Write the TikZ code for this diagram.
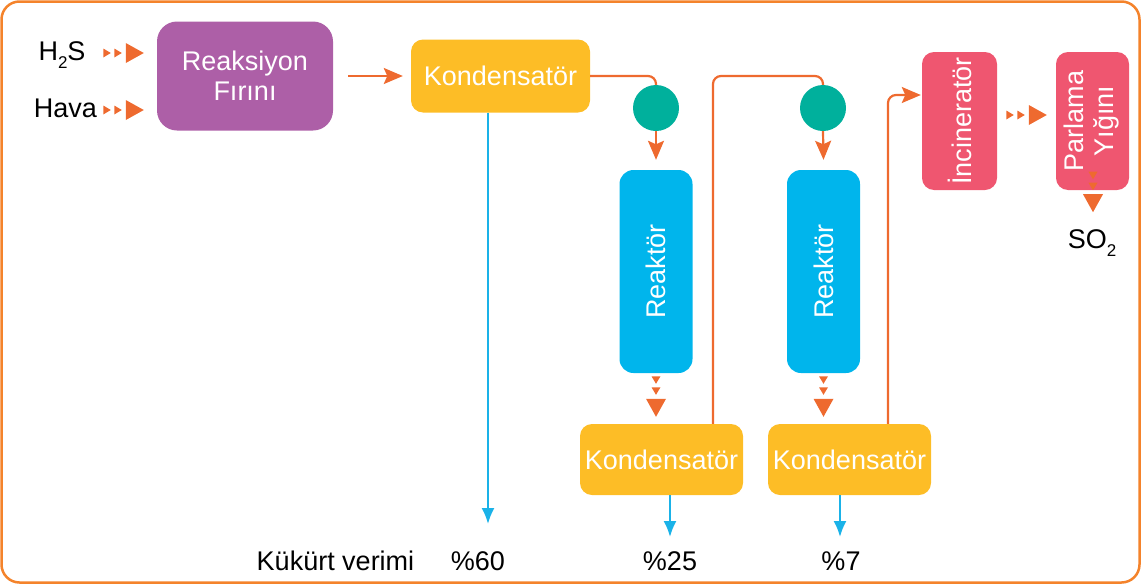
\documentclass[tikz,border=0pt]{standalone}
\usepackage{fontspec}
\setmainfont{Liberation Sans}
\usetikzlibrary{arrows.meta,calc}
\definecolor{frameor}{HTML}{F4832B}
\definecolor{arrowor}{HTML}{EE6A2F}
\definecolor{purp}{HTML}{AD5FA7}
\definecolor{yel}{HTML}{FDBD26}
\definecolor{tealc}{HTML}{00B09C}
\definecolor{blu}{HTML}{00B5EC}
\definecolor{pnk}{HTML}{EF5670}
\definecolor{arrowbl}{HTML}{1AB2E8}
\tikzset{
  dotarr/.pic={
    \fill[arrowor] (0,0) -- (-18,-10) -- (-18,10) -- cycle;
    \fill[arrowor] (-22,0) -- (-29.5,-4.5) -- (-29.5,4.5) -- cycle;
    \fill[arrowor] (-33,0) -- (-40.5,-4.5) -- (-40.5,4.5) -- cycle;
  },
  box/.style={rectangle, draw=none, text=white, inner sep=0pt, align=center},
  furnbox/.style={box, fill=purp, minimum width=176pt, minimum height=109pt, rounded corners=20pt},
  kondbox/.style={box, fill=yel, rounded corners=12pt},
  reakbox/.style={box, fill=blu, minimum width=73pt, minimum height=203pt, rounded corners=14pt},
  pinkbox/.style={box, fill=pnk, minimum width=75pt, minimum height=138pt, rounded corners=12pt},
  valve/.style={circle, fill=tealc, draw=none, minimum size=46pt, inner sep=0pt},
  oline/.style={draw=arrowor, line width=2.2pt},
  oarr/.style={oline, -{Stealth[width=16pt,length=19pt,inset=3.5pt]}},
  barr/.style={draw=arrowbl, line width=2pt, -{Latex[width=13pt,length=16pt]}},
  lbl/.style={text=black, inner sep=0pt, anchor=base}
}
\begin{document}
\begin{tikzpicture}[x=1pt,y=-1pt,font=\fontsize{27}{30}\selectfont]
\useasboundingbox (0,0) rectangle (1141,584);
\draw[frameor, line width=2.5pt, rounded corners=18pt] (1.5,1.5) rectangle (1139.5,582.5);

% nodes
\node[furnbox] (furn) at (245,76) {Reaksiyon\\Fırını};
\node[kondbox, minimum width=179pt, minimum height=73pt] (k1) at (500.5,76) {Kondensatör};
\node[valve] (c1) at (656,108) {};
\node[reakbox] (r1) at (656,271.5) {\rotatebox{90}{Reaktör}};
\node[kondbox, minimum width=163pt, minimum height=71pt] (k2) at (661.5,459.5) {Kondensatör};
\node[valve] (c2) at (823,108) {};
\node[reakbox] (r2) at (823.5,271.5) {\rotatebox{90}{Reaktör}};
\node[kondbox, minimum width=163pt, minimum height=71pt] (k3) at (849.5,459.5) {Kondensatör};
\node[pinkbox] (inc) at (959.5,121) {\rotatebox{90}{İncineratör}};
\node[pinkbox, minimum width=73pt] (par) at (1092.5,121) {\rotatebox{90}{\begin{tabular}{@{}c@{}}Parlama\\Yığını\end{tabular}}};

\node[lbl] (h2s) at (62,60) {H\raisebox{-0.3em}{\fontsize{17}{17}\selectfont 2}S};
\node[lbl] (hava) at (65.5,117) {Hava};
\node[lbl] (so2) at (1092,248) {SO\raisebox{-0.3em}{\fontsize{17}{17}\selectfont 2}};
\node[lbl] (kv) at (335.5,570) {Kükürt verimi};
\node[lbl] (p60) at (478,570) {\%60};
\node[lbl] (p25) at (670,570) {\%25};
\node[lbl] (p7) at (841,570) {\%7};

% connectors
\pic at ($(furn.west)+(-13,-23)$) {dotarr};
\pic at ($(furn.west)+(-13,34)$) {dotarr};
\draw[oarr] ($(furn.east)+(15,0)$) -- ($(k1.west)+(-8,0)$);
\draw[oline, rounded corners=8pt] (k1.east) -| (c1.north);
\draw[oarr] (c1.south) -- ($(r1.north)+(0,-10)$);
\pic[rotate=-90] at ($(k2.north -| r1.south)+(0,-7)$) {dotarr};
\draw[oline, rounded corners=8pt] ($(k2.north)+(51.5,0)$) |- (k1.east -| c2.north) -- (c2.north);
\draw[oarr] (c2.south) -- ($(r2.north)+(0,-10)$);
\pic[rotate=-90] at ($(k3.north -| r2.south)+(0,-7)$) {dotarr};
\draw[oarr, rounded corners=8pt] ($(k3.north)+(38.5,0)$) |- ($(inc.west)+(-1,-26)$);
\pic at ($(par.west)+(-9,-6)$) {dotarr};
\pic[rotate=-90] at ($(par.south)+(0.5,22)$) {dotarr};

\coordinate (e60) at (488,524);
\coordinate (e25) at (670,537);
\coordinate (e7) at (840,537);
\draw[barr] (k1.south -| e60) -- (e60);
\draw[barr] (k2.south -| e25) -- (e25);
\draw[barr] (k3.south -| e7) -- (e7);
\end{tikzpicture}
\end{document}
